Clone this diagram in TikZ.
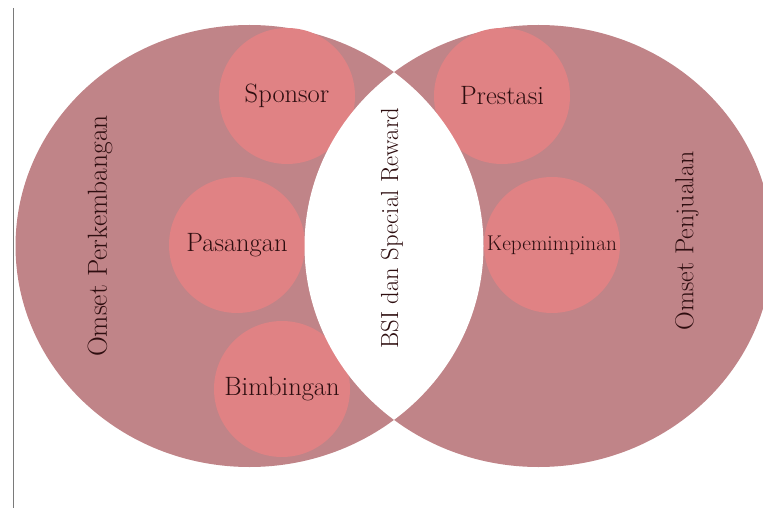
\documentclass[tikz,border=0pt]{standalone}
\usepackage{xcolor}
\definecolor{ink}{HTML}{2E0E10}
\definecolor{rose}{HTML}{C08488}
\definecolor{blush}{HTML}{E08284}
\definecolor{rule}{HTML}{7A7A7A}

\begin{document}
\begin{tikzpicture}[
  x=1pt,y=-1pt,
  word/.style={text=ink,inner sep=0pt,font=\fontsize{26.5}{30}\selectfont},
  sideword/.style={word,rotate=90},
  bubble/.style={circle,fill=blush,minimum size=136pt,inner sep=0pt,
                 text=ink,font=\fontsize{26.5}{30}\selectfont}
]
\useasboundingbox (0,0) rectangle (763,508);
\clip (0,0) rectangle (763,508);

% Rule on the left
\draw[rule,line width=0.8pt] (13,8) -- (13,508);

% Two big rings
\fill[rose] (249.5,246) ellipse [x radius=234, y radius=221];
\fill[rose] (538.5,246) ellipse [x radius=234, y radius=221];

% Small circles
\node[bubble] (sponsor) at (287,96) {Sponsor};
\node[bubble] (pasangan) at (237,245) {Pasangan};
\node[bubble] (bimbingan) at (282,389) {Bimbingan};
\node[bubble] (prestasi) at (502,96) {Prestasi};
\node[bubble,font=\fontsize{21.3}{25}\selectfont] (kepemimpinan) at (552,245) {Kepemimpinan};

% White overlap
\begin{scope}
  \clip (249.5,246) ellipse [x radius=234, y radius=221];
  \fill[white] (538.5,246) ellipse [x radius=234, y radius=221];
\end{scope}

% Side labels
\node[sideword,font=\fontsize{27.5}{31}\selectfont] (perkembangan) at (100,236) {Omset Perkembangan};
\node[sideword,font=\fontsize{24.7}{28}\selectfont] (bsi) at (392,228) {BSI dan Special Reward};
\node[sideword,font=\fontsize{26}{30}\selectfont] (penjualan) at (687,241) {Omset Penjualan};

\end{tikzpicture}
\end{document}
